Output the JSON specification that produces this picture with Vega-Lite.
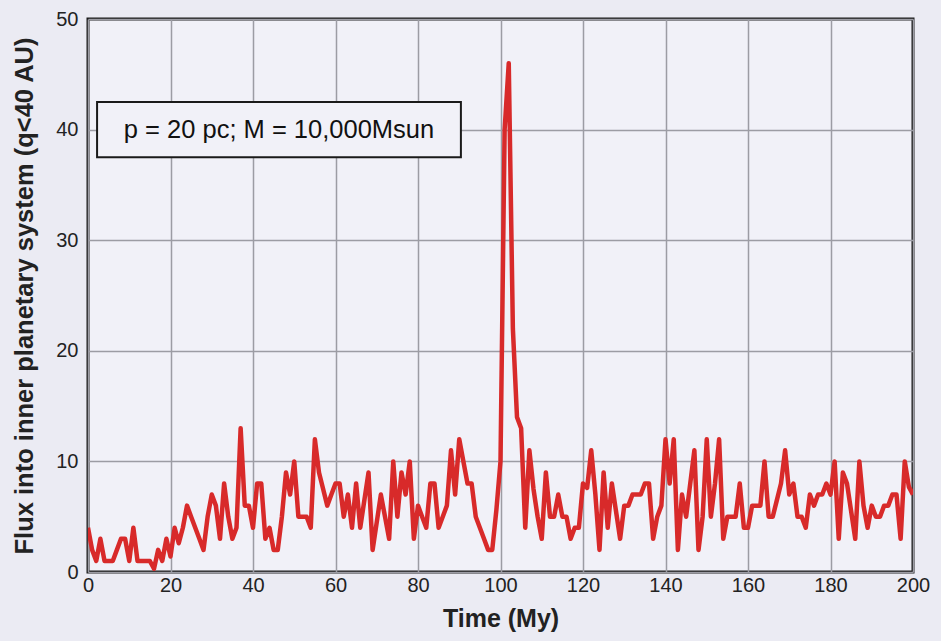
{
  "$schema": "https://vega.github.io/schema/vega-lite/v6.json",
  "autosize": "none",
  "width": 825,
  "height": 553,
  "padding": {"left": 88, "top": 19, "right": 28, "bottom": 69},
  "background": "#ebebf3",
  "config": {
    "view": {"fill": "#f1f1f8", "stroke": "#1a1a1a", "strokeWidth": 3},
    "font": "Liberation Sans"
  },
  "datasets": {
    "flux": [
      {"t":0,"f":4},{"t":1,"f":2},{"t":2,"f":1},{"t":3,"f":3},{"t":4,"f":1},{"t":5,"f":1},{"t":6,"f":1},{"t":7,"f":2},{"t":8,"f":3},{"t":9,"f":3},
      {"t":10,"f":1},{"t":11,"f":4},{"t":12,"f":1},{"t":13,"f":1},{"t":14,"f":1},{"t":15,"f":1},{"t":16,"f":0.3},{"t":17,"f":2},{"t":18,"f":1},{"t":19,"f":3},
      {"t":20,"f":1.4},{"t":21,"f":4},{"t":22,"f":2.6},{"t":23,"f":4},{"t":24,"f":6},{"t":25,"f":5},{"t":26,"f":4},{"t":27,"f":3},{"t":28,"f":2},{"t":29,"f":5},
      {"t":30,"f":7},{"t":31,"f":6},{"t":32,"f":3},{"t":33,"f":8},{"t":34,"f":5},{"t":35,"f":3},{"t":36,"f":4},{"t":37,"f":13},{"t":38,"f":6},{"t":39,"f":6},
      {"t":40,"f":4},{"t":41,"f":8},{"t":42,"f":8},{"t":43,"f":3},{"t":44,"f":4},{"t":45,"f":2},{"t":46,"f":2},{"t":47,"f":5},{"t":48,"f":9},{"t":49,"f":7},
      {"t":50,"f":10},{"t":51,"f":5},{"t":52,"f":5},{"t":53,"f":5},{"t":54,"f":4},{"t":55,"f":12},{"t":56,"f":9},{"t":57,"f":7.5},{"t":58,"f":6},{"t":59,"f":7},
      {"t":60,"f":8},{"t":61,"f":8},{"t":62,"f":5},{"t":63,"f":7},{"t":64,"f":4},{"t":65,"f":8},{"t":66,"f":4},{"t":67,"f":6.5},{"t":68,"f":9},{"t":69,"f":2},
      {"t":70,"f":4.5},{"t":71,"f":7},{"t":72,"f":5},{"t":73,"f":3},{"t":74,"f":10},{"t":75,"f":5},{"t":76,"f":9},{"t":77,"f":7},{"t":78,"f":10},{"t":79,"f":3},
      {"t":80,"f":6},{"t":81,"f":5},{"t":82,"f":4},{"t":83,"f":8},{"t":84,"f":8},{"t":85,"f":4},{"t":86,"f":5},{"t":87,"f":6},{"t":88,"f":11},{"t":89,"f":7},
      {"t":90,"f":12},{"t":91,"f":10},{"t":92,"f":8},{"t":93,"f":8},{"t":94,"f":5},{"t":95,"f":4},{"t":96,"f":3},{"t":97,"f":2},{"t":98,"f":2},{"t":99,"f":5.6},
      {"t":100,"f":10},{"t":101,"f":40},{"t":102,"f":46},{"t":103,"f":22},{"t":104,"f":14},{"t":105,"f":13},{"t":106,"f":4},{"t":107,"f":11},{"t":108,"f":7.5},{"t":109,"f":5},
      {"t":110,"f":3},{"t":111,"f":9},{"t":112,"f":5},{"t":113,"f":5},{"t":114,"f":7},{"t":115,"f":5},{"t":116,"f":5},{"t":117,"f":3},{"t":118,"f":4},{"t":119,"f":4},
      {"t":120,"f":8},{"t":121,"f":7.6},{"t":122,"f":11},{"t":123,"f":7},{"t":124,"f":2},{"t":125,"f":9},{"t":126,"f":4},{"t":127,"f":8},{"t":128,"f":5.5},{"t":129,"f":3},
      {"t":130,"f":6},{"t":131,"f":6},{"t":132,"f":7},{"t":133,"f":7},{"t":134,"f":7},{"t":135,"f":8},{"t":136,"f":8},{"t":137,"f":3},{"t":138,"f":5},{"t":139,"f":6},
      {"t":140,"f":12},{"t":141,"f":8},{"t":142,"f":12},{"t":143,"f":2},{"t":144,"f":7},{"t":145,"f":5},{"t":146,"f":8},{"t":147,"f":11},{"t":148,"f":2},{"t":149,"f":5},
      {"t":150,"f":12},{"t":151,"f":5},{"t":152,"f":8},{"t":153,"f":12},{"t":154,"f":3},{"t":155,"f":5},{"t":156,"f":5},{"t":157,"f":5},{"t":158,"f":8},{"t":159,"f":4},
      {"t":160,"f":4},{"t":161,"f":6},{"t":162,"f":6},{"t":163,"f":6},{"t":164,"f":10},{"t":165,"f":5},{"t":166,"f":5},{"t":167,"f":6.5},{"t":168,"f":8},{"t":169,"f":11},
      {"t":170,"f":7},{"t":171,"f":8},{"t":172,"f":5},{"t":173,"f":5},{"t":174,"f":4},{"t":175,"f":7},{"t":176,"f":6},{"t":177,"f":7},{"t":178,"f":7},{"t":179,"f":8},
      {"t":180,"f":7},{"t":181,"f":10},{"t":182,"f":3},{"t":183,"f":9},{"t":184,"f":8},{"t":185,"f":5.5},{"t":186,"f":3},{"t":187,"f":10},{"t":188,"f":6},{"t":189,"f":4},
      {"t":190,"f":6},{"t":191,"f":5},{"t":192,"f":5},{"t":193,"f":6},{"t":194,"f":6},{"t":195,"f":7},{"t":196,"f":7},{"t":197,"f":3},{"t":198,"f":10},{"t":199,"f":7.7},
      {"t":200,"f":7}
    ],
    "note": [{"label": "p = 20 pc; M = 10,000Msun", "x0": 2.2, "x1": 90.4, "y0": 37.5, "y1": 42.5, "xm": 46.3, "ym": 40}]
  },
  "layer": [
    {
      "data": {"name": "flux"},
      "mark": {"type": "line", "color": "#d82a2a", "strokeWidth": 4.5, "strokeJoin": "round", "clip": true},
      "encoding": {
        "x": {
          "field": "t", "type": "quantitative",
          "scale": {"domain": [0, 200], "nice": false, "zero": false},
          "axis": {
            "title": "Time (My)", "values": [0,20,40,60,80,100,120,140,160,180,200],
            "grid": true, "gridColor": "#9c9ca4", "gridWidth": 1.5,
            "domain": false, "ticks": false, "labelPadding": 3, "labelFlush": false,
            "labelFontSize": 20, "labelColor": "#222", "labelFont": "Liberation Sans",
            "titleFontSize": 25, "titleFont": "Liberation Sans", "titleFontWeight": "bold", "titleColor": "#222", "titlePadding": 11
          }
        },
        "y": {
          "field": "f", "type": "quantitative",
          "scale": {"domain": [0, 50], "nice": false},
          "axis": {
            "title": "Flux into inner planetary system (q<40 AU)", "values": [0,10,20,30,40,50],
            "grid": true, "gridColor": "#9c9ca4", "gridWidth": 1.5,
            "domain": false, "ticks": false, "labelPadding": 10, "labelFlush": false,
            "labelFontSize": 20, "labelColor": "#222", "labelFont": "Liberation Sans",
            "titleFontSize": 25.5, "titleFont": "Liberation Sans", "titleFontWeight": "bold", "titleColor": "#222", "titlePadding": 18
          }
        }
      }
    },
    {
      "data": {"name": "note"},
      "mark": {"type": "rect", "fill": "#f1f1f8", "stroke": "#1a1a1a", "strokeWidth": 2},
      "encoding": {
        "x": {"field": "x0", "type": "quantitative"},
        "x2": {"field": "x1"},
        "y": {"field": "y0", "type": "quantitative"},
        "y2": {"field": "y1"}
      }
    },
    {
      "data": {"name": "note"},
      "mark": {"type": "text", "fontSize": 25.5, "font": "Liberation Sans", "color": "#111", "align": "center", "baseline": "middle"},
      "encoding": {
        "x": {"field": "xm", "type": "quantitative"},
        "y": {"field": "ym", "type": "quantitative"},
        "text": {"field": "label"}
      }
    }
  ]
}
